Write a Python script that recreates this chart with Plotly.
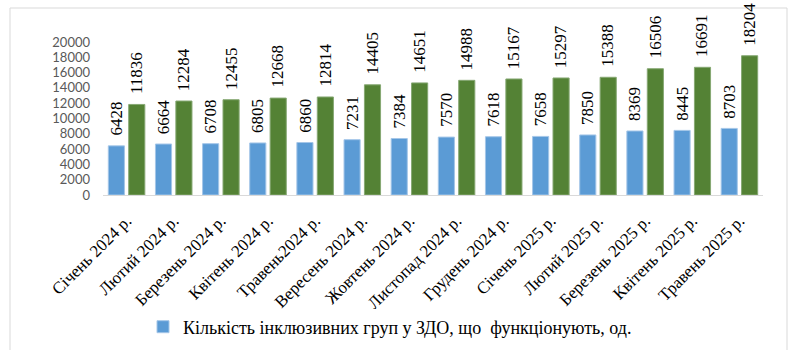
import plotly.graph_objects as go

categories = ["Січень 2024 р.", "Лютий 2024 р.", "Березень 2024 р.", "Квітень 2024 р.",
              "Травень2024 р.", "Вересень 2024 р.", "Жовтень 2024 р.", "Листопад 2024 р.",
              "Грудень 2024 р.", "Січень 2025 р.", "Лютий 2025 р.", "Березень 2025 р.",
              "Квітень 2025 р.", "Травень 2025 р."]
groups = [6428, 6664, 6708, 6805, 6860, 7231, 7384, 7570, 7618, 7658, 7850, 8369, 8445, 8703]
children = [11836, 12284, 12455, 12668, 12814, 14405, 14651, 14988, 15167, 15297, 15388, 16506, 16691, 18204]
y_ticks = [0, 2000, 4000, 6000, 8000, 10000, 12000, 14000, 16000, 18000, 20000]
legend_name = "Кількість інклюзивних груп у ЗДО, що  функціонують, од."

W, H = 794, 350
L, R, T, B = 103, 31, 42, 155
pw, ph = W - L - R, H - T - B

serif = "Liberation Serif, Times New Roman, serif"

fig = go.Figure()
fig.add_trace(go.Bar(x=categories, y=groups, name=legend_name,
                     marker=dict(color="#5b9bd5", line=dict(color="#a4c6e8", width=1))))
fig.add_trace(go.Bar(x=categories, y=children, name="children", showlegend=False,
                     marker=dict(color="#548235", line=dict(color="#86a873", width=1))))

for vals, xs in ((groups, -10), (children, 10)):
    for c, v in zip(categories, vals):
        fig.add_annotation(x=c, y=v, text=str(v), textangle=-90, showarrow=False,
                           xanchor="center", yanchor="bottom", xshift=xs, yshift=8,
                           font=dict(family=serif, size=17, color="black"))

fig.add_shape(type="rect", xref="paper", yref="paper",
              x0=(10 - L) / pw, x1=(787 - L) / pw,
              y0=(H - B - 8) / ph, y1=(H - B - 352) / ph,
              line=dict(color="#d9d9d9", width=1), fillcolor="rgba(0,0,0,0)", layer="below")

fig.update_layout(
    width=W, height=H,
    margin=dict(l=L, r=R, t=T, b=B, autoexpand=False),
    paper_bgcolor="white", plot_bgcolor="white",
    font=dict(family=serif, color="black"),
    barmode="group", bargap=0.134, bargroupgap=0.21,
    showlegend=True,
    legend=dict(orientation="h", x=(390 - L) / pw, xanchor="center",
                y=(H - B - 327) / ph, yanchor="middle",
                font=dict(family=serif, size=18, color="black"),
                itemwidth=30),
    xaxis=dict(tickangle=-45, showline=True, linecolor="#d9d9d9", linewidth=1,
               ticks="", automargin=False, ticklabelstandoff=8,
               tickfont=dict(family=serif, size=17, color="black"),
               showgrid=False),
    yaxis=dict(range=[0, 20000], tickvals=y_ticks, tickformat="d", showgrid=False, zeroline=False,
               showline=False, ticks="", ticklabelstandoff=12, automargin=False,
               tickfont=dict(family="Lato, Carlito, Calibri, sans-serif", size=13, color="#595959")),
)

fig.write_html("out.html")
